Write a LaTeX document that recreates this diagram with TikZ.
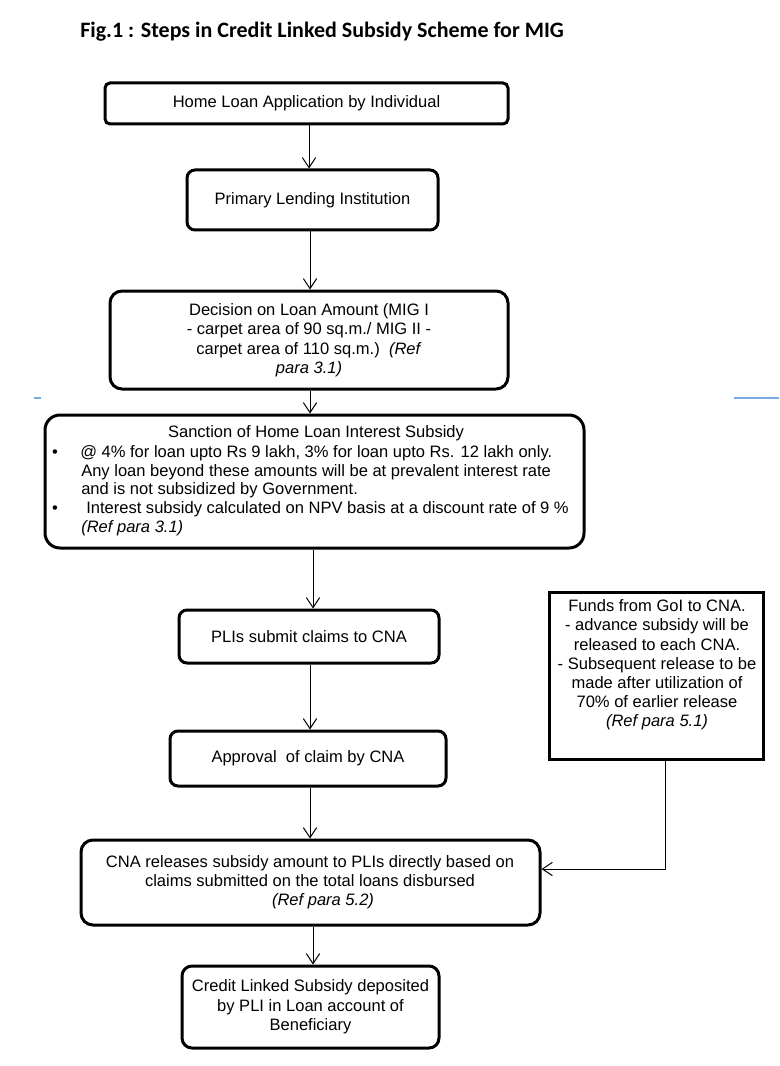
\documentclass[tikz,border=0pt]{standalone}
\usepackage{fontspec}
\setmainfont{Liberation Sans}
\newfontfamily\titlefont{Carlito}
\usetikzlibrary{arrows.meta}
\begin{document}
\begin{tikzpicture}[x=0.75pt,y=-0.75pt,
  box/.style={draw, line width=2.25pt, rounded corners=#1, inner sep=0pt, align=center,
    font=\fontsize{12.4}{14.6}\selectfont},
  box/.default=9pt,
  sqbox/.style={draw, line width=2.25pt, inner sep=0pt},
  txt/.style={align=center, inner sep=0pt, font=\fontsize{12.4}{14.4}\selectfont},
  ln/.style={anchor=base west, inner sep=0pt, font=\fontsize{12.4}{14}\selectfont},
  arr/.style={line width=0.75pt, -{Straight Barb[length=7.5pt,width=10pt]}},
  blueline/.style={line width=0.9pt, draw={rgb,255:red,120;green,170;blue,230}},
  ]
\useasboundingbox (0,0) rectangle (780,1066);

% title
\node[anchor=base west, inner sep=0pt, font=\titlefont\bfseries\fontsize{16.5}{19}\selectfont] (title) at (80,38) {Fig.1 : Steps in Credit Linked Subsidy Scheme for MIG};

% boxes
\node[box=3.75pt, minimum width=302.25pt, minimum height=30.75pt] (b1) at (306.5,103.5) {Home Loan Application by Individual};
\node[box=6pt, minimum width=188.25pt, minimum height=45pt] (b2) at (312.5,200) {Primary Lending Institution};
\node[box=9pt, minimum width=298.5pt, minimum height=73.5pt] (b3) at (309,340) {Decision on Loan Amount (MIG I\\- carpet area of 90 sq.m./ MIG II -\\carpet area of 110 sq.m.)\ \ \textit{(Ref}\\\textit{para 3.1)}};
\node[box=11.25pt, minimum width=404.25pt, minimum height=99.75pt] (b4) at (314.5,481.5) {};
\node[box=6pt, minimum width=195pt, minimum height=39.75pt] (b5) at (309,636.5) {PLIs submit claims to CNA};
\node[box=6pt, minimum width=207pt, minimum height=41.25pt] (b6) at (308,758.5) {Approval\ \ of claim by CNA};
\node[box=9pt, minimum width=344.25pt, minimum height=63.75pt] (b7) at (310.5,882.5) {};
\node[box=7.5pt, minimum width=192.75pt, minimum height=61.5pt] (b8) at (310.5,1007) {Credit Linked Subsidy deposited\\by PLI in Loan account of\\Beneficiary};
\node[sqbox, minimum width=160.5pt, minimum height=125.25pt] (f) at (656,675.5) {};

% text of box 4
\node[ln, anchor=base] (t4) at (316,437) {Sanction of Home Loan Interest Subsidy};
\node[ln, anchor=base] (u1) at (55,457) {\textbullet};
\node[ln] (l1) at (80,457) {@ 4\% for loan upto Rs 9 lakh, 3\% for loan upto Rs. 12 lakh only.};
\node[ln] (l2) at (81,476) {Any loan beyond these amounts will be at prevalent interest rate};
\node[ln] (l3) at (81,494) {and is not subsidized by Government.};
\node[ln, anchor=base] (u2) at (55,513) {\textbullet};
\node[ln] (l4) at (86,513) {Interest subsidy calculated on NPV basis at a discount rate of 9 \%};
\node[ln] (l5) at (81,532) {\textit{(Ref para 3.1)}};

% text of box 7
\node[txt] (t7) at (310,882) {CNA releases subsidy amount to PLIs directly based on\\claims submitted on the total loans disbursed\\\hspace*{19.5pt}\textit{(Ref para 5.2)}};

% text of funds box
\node[txt] (tf) at (657,665) {Funds from GoI to CNA.\\- advance subsidy will be\\released to each CNA.\\- Subsequent release to be\\made after utilization of\\70\% of earlier release\\\textit{(Ref para 5.1)}};

% stray marks
\draw[blueline] (34,398) -- (41,398);
\draw[blueline] (734,398) -- (779,398);

% connectors
\coordinate (c1) at (309,0);
\coordinate (c0) at (310,0);
\coordinate (c2) at (313,0);
\coordinate (fx) at (665,0);
\coordinate (fy) at (0,869);
\draw[arr] (b1.south -| c1) -- (b2.north -| c1);
\draw[arr] (b2.south -| c0) -- (b3.north -| c0);
\draw[arr] (b3.south -| c0) -- (b4.north -| c0);
\draw[arr] (b4.south -| c2) -- (b5.north -| c2);
\draw[arr] (b5.south -| c0) -- (b6.north -| c0);
\draw[arr] (b6.south -| c0) -- (b7.north -| c0);
\draw[arr] (b7.south -| c2) -- (b8.north -| c2);
\draw[arr] (f.south -| fx) |- (b7.east |- fy);
\end{tikzpicture}
\end{document}
